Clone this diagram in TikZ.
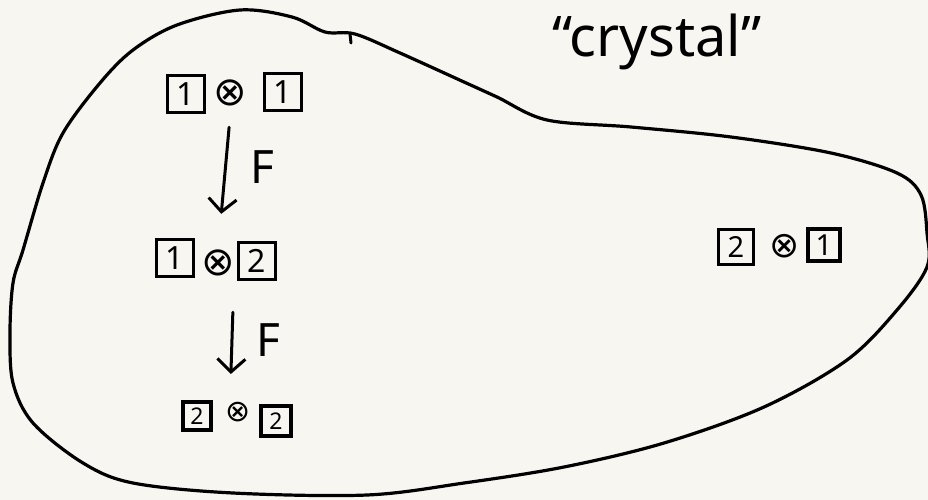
\documentclass[tikz,border=0pt]{standalone}
\usepackage{fontspec}
\setmainfont{Noto Sans}
\newfontfamily\symfont{DejaVu Sans}
\usetikzlibrary{arrows.meta}
\definecolor{paper}{HTML}{F8F6F1}
\tikzset{
  ink/.style={line width=3pt, line cap=round, line join=round, draw=black},
  numbox/.style={draw, line width=3.2pt, inner sep=0pt, minimum width=#1, minimum height=#1, font=\fontsize{32}{36}\selectfont},
  numbox/.default=37pt,
  tens/.style={inner sep=0pt, font=\symfont\fontsize{40}{44}\selectfont},
  flabel/.style={inner sep=0pt, font=\fontsize{46}{50}\selectfont},
  farrow/.style={ink, -{Straight Barb[length=13pt,width=28pt,line width=3pt]}},
}
\begin{document}
\begin{tikzpicture}[x=1pt,y=-1pt]
\fill[paper] (0,0) rectangle (928,500);
\useasboundingbox (0,0) rectangle (928,500);

% blob outline
\draw[ink, line width=3.2pt] plot[smooth cycle, tension=0.55] coordinates {
 (23,250) (43,183) (63,133) (100,83) (133,50) (177,25) (240,10) (292,17)
 (325,32) (355,34) (400,53) (464,82) (497,97) (547,120) (631,127) (731,137)
 (831,153) (897,173) (921,195) (927,233) (927,267) (897,310) (847,360)
 (764,407) (664,443) (564,467) (464,483) (367,495) (233,493) (133,483)
 (83,463) (33,423) (13,383) (10,333) (13,283)};
\draw[ink] (350,34) -- (351,43);

% title
\node[inner sep=0pt, font=\fontsize{56}{64}\selectfont] (title) at (657,42) {``crystal''};

% row 1
\node[numbox] (a1) at (186,94) {1};
\node[tens] (t1) at (230,93) {⊗};
\node[numbox] (b1) at (283,92) {1};

% row 2
\node[numbox] (a2) at (175,258) {1};
\node[tens] (t2) at (218,263) {⊗};
\node[numbox] (b2) at (257,261) {2};

% row 3
\node[numbox=28pt, font=\fontsize{23}{26}\selectfont] (a3) at (197,416) {2};
\node[tens, font=\symfont\fontsize{30}{34}\selectfont] (t3) at (238,412) {⊗};
\node[numbox=30pt, font=\fontsize{23}{26}\selectfont] (b3) at (276,421) {2};

% right
\node[numbox=35pt, font=\fontsize{29}{32}\selectfont] (a4) at (736,247) {2};
\node[tens, font=\symfont\fontsize{36}{40}\selectfont] (t4) at (785,246) {⊗};
\node[numbox=32pt, font=\fontsize{29}{32}\selectfont] (b4) at (824,245) {1};

% arrows
\draw[farrow, shorten <=21pt, shorten >=36pt] ([xshift=1pt]t1.south) -- (t2.north);
\node[flabel] (f1) at (262,167) {F};
\draw[farrow, shorten <=36pt, shorten >=28pt] ([xshift=16pt]t2.south) -- ([xshift=-8pt]t3.north);
\node[flabel] (f2) at (268,340) {F};
\end{tikzpicture}
\end{document}
